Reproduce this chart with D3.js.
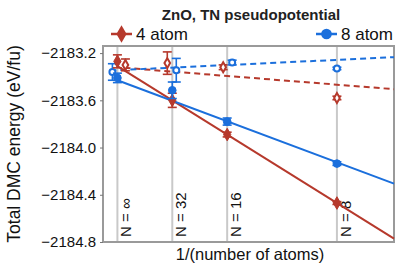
<!DOCTYPE html>
<html>
<head>
<meta charset="utf-8">
<script src="https://cdn.jsdelivr.net/npm/d3@7"></script>
<style>
  body { margin: 0; background: #fff; }
  text { font-family: "Liberation Sans", Arial, sans-serif; }
</style>
</head>
<body>
<div id="chart"></div>
<script>
// x values are 1/N, N = number of atoms (0 means N = infinity)
var cells = ["N = \u221e", "N = 32", "N = 16", "N = 8"];
var invN = [0, 1/32, 1/16, 1/8];

// 4 atom, filled (solid fit) and open (dashed fit)
var red_full = [-2183.27, -2183.60, -2183.89, -2184.47];
var red_full_err = [0.055, 0.06, 0.02, 0.012];
var red_open = [-2183.30, -2183.285, -2183.32, -2183.58];
var red_open_err = [0.05, 0.095, 0.02, 0.015];

// 8 atom
var blue_full = [-2183.41, -2183.515, -2183.78, -2184.136];
var blue_full_err = [0.04, 0.07, 0.03, 0.015];
var blue_open = [-2183.36, -2183.345, -2183.28, -2183.33];
var blue_open_err = [0.07, 0.1, 0.02, 0.01];

// fit lines: [value at 1/N = 0, slope]
var red_fit = [-2183.31, -9.28];
var red_dash_fit = [-2183.32, -1.18];
var blue_fit = [-2183.43, -5.56];
var blue_dash_fit = [-2183.345, 0.70];

var yTicks = [-2183.2, -2183.6, -2184.0, -2184.4, -2184.8];

(function() {
  var w = 409, h = 265;
  var left = 103, right = 394, top = 46, bottom = 242;
  var red = "#b6392c", blue = "#1b6fdc";

  var svg = d3.select("#chart").append("svg")
    .attr("width", w).attr("height", h);

  var x = d3.scaleLinear().domain([-0.0082, 0.1575]).range([left, right]);
  var y = d3.scaleLinear().domain([-2183.14, -2184.8]).range([top, bottom]);

  // vertical guides at each cell size
  svg.selectAll(".grid").data(invN).enter().append("line")
    .attr("x1", d => x(d)).attr("x2", d => x(d))
    .attr("y1", top).attr("y2", bottom)
    .attr("stroke", "#c9c9c9").attr("stroke-width", 2);

  svg.selectAll(".nlab").data(cells).enter().append("text")
    .attr("transform", (d, i) => "translate(" + (x(invN[i]) + 14) + "," + (bottom - 5) + ") rotate(-90)")
    .attr("font-size", 15).attr("fill", "#111")
    .text(d => d);

  // frame
  svg.append("rect")
    .attr("x", left).attr("y", top)
    .attr("width", right - left).attr("height", bottom - top)
    .attr("fill", "none").attr("stroke", "#9a9a9a").attr("stroke-width", 2);

  var yAxis = svg.append("g")
    .attr("transform", "translate(" + left + ",0)")
    .call(d3.axisLeft(y).tickValues(yTicks).tickSize(3)
      .tickFormat(d => d3.format(".1f")(d).replace("-", "\u2212")));
  yAxis.select(".domain").remove();
  yAxis.selectAll("line").attr("stroke", "#777");
  yAxis.selectAll("text").attr("font-size", 15).attr("fill", "#111")
    .attr("font-family", "Liberation Sans, Arial, sans-serif").attr("dx", "-1");

  // fit lines
  function fitLine(f, x0, dash, color) {
    svg.append("line")
      .attr("x1", x(x0)).attr("y1", y(f[0] + f[1] * x0))
      .attr("x2", x(0.1575)).attr("y2", y(f[0] + f[1] * 0.1575))
      .attr("stroke", color).attr("stroke-width", 2)
      .attr("stroke-dasharray", dash ? "6,4" : null);
  }
  fitLine(red_dash_fit, 0.004, true, red);
  fitLine(blue_dash_fit, -0.004, true, blue);
  fitLine(red_fit, 0, false, red);
  fitLine(blue_fit, 0, false, blue);

  // small horizontal dodge (px) so the open markers don't overlap
  var dodgeRed = [8, -5, -4, 0], dodgeBlue = [-5, 4, 5, 0];

  function series(vals, errs, dodge, shape, color, open) {
    var g = svg.append("g");
    var pts = vals.map((v, i) => ({ x: x(invN[i]) + dodge[i], v: v, e: errs[i] }));
    pts.forEach(function(p) {
      var y1 = y(p.v - p.e), y2 = y(p.v + p.e);
      g.append("line").attr("x1", p.x).attr("x2", p.x).attr("y1", y1).attr("y2", y2)
        .attr("stroke", color).attr("stroke-width", 1.6);
      [y1, y2].forEach(function(yy) {
        g.append("line").attr("x1", p.x - 4.5).attr("x2", p.x + 4.5).attr("y1", yy).attr("y2", yy)
          .attr("stroke", color).attr("stroke-width", 1.6);
      });
    });
    var sym = d3.symbol().type(shape).size(open ? 28 : 46);
    g.selectAll("path.m").data(pts).enter().append("path")
      .attr("transform", p => "translate(" + p.x + "," + y(p.v) + ")")
      .attr("d", sym)
      .attr("fill", open ? "#fff" : color)
      .attr("stroke", color).attr("stroke-width", open ? 2 : 1);
  }
  series(red_open, red_open_err, dodgeRed, d3.symbolDiamond, red, true);
  series(blue_open, blue_open_err, dodgeBlue, d3.symbolCircle, blue, true);
  series(red_full, red_full_err, [0, 0, 0, 0], d3.symbolDiamond, red, false);
  series(blue_full, blue_full_err, [0, 0, 0, 0], d3.symbolCircle, blue, false);

  // title and legend
  svg.append("text").attr("x", 251).attr("y", 20).attr("text-anchor", "middle")
    .attr("font-family", "Open Sans, sans-serif").attr("font-weight", "bold")
    .attr("font-size", 15).attr("fill", "#222")
    .text("ZnO, TN pseudopotential");

  var legend = [
    { label: "4 atom", color: red, shape: d3.symbolDiamond, x: 111 },
    { label: "8 atom", color: blue, shape: d3.symbolCircle, x: 316 }
  ];
  legend.forEach(function(l) {
    svg.append("line").attr("x1", l.x).attr("x2", l.x + 21).attr("y1", 34).attr("y2", 34)
      .attr("stroke", l.color).attr("stroke-width", 2.5);
    svg.append("path").attr("transform", "translate(" + (l.x + 10.5) + ",34)")
      .attr("d", d3.symbol().type(l.shape).size(90)).attr("fill", l.color);
    svg.append("text").attr("x", l.x + 25).attr("y", 39.5)
      .attr("font-size", 17).attr("fill", "#111").text(l.label);
  });

  // axis titles
  svg.append("text").attr("x", 250).attr("y", 260).attr("text-anchor", "middle")
    .attr("font-size", 16.5).attr("fill", "#111").text("1/(number of atoms)");
  svg.append("text")
    .attr("transform", "translate(20,144) rotate(-90)")
    .attr("text-anchor", "middle").attr("font-size", 17.5).attr("fill", "#111")
    .text("Total DMC energy (eV/fu)");
})();
</script>
</body>
</html>
